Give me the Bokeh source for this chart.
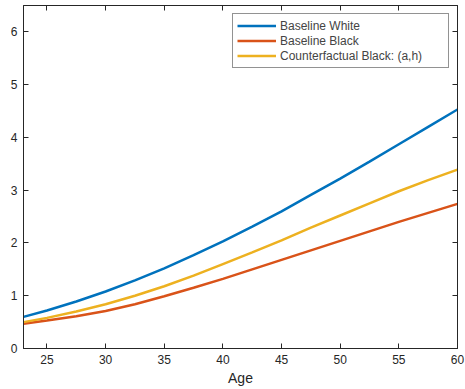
from bokeh.plotting import figure
from bokeh.models import LinearAxis, Range1d, FixedTicker, Legend, LegendItem
from bokeh.embed import file_html
from bokeh.resources import INLINE

ages = [23, 25, 27.5, 30, 32.5, 35, 37.5, 40, 42.5, 45, 47.5, 50, 52.5, 55, 57.5, 60]
baseline_white = [0.60, 0.72, 0.89, 1.08, 1.29, 1.52, 1.77, 2.03, 2.31, 2.60, 2.91, 3.22, 3.54, 3.87, 4.20, 4.53]
baseline_black = [0.47, 0.53, 0.61, 0.71, 0.84, 0.99, 1.15, 1.32, 1.50, 1.68, 1.86, 2.04, 2.22, 2.40, 2.57, 2.74]
counterfactual_black = [0.50, 0.58, 0.70, 0.84, 1.00, 1.18, 1.38, 1.60, 1.82, 2.05, 2.29, 2.52, 2.75, 2.98, 3.19, 3.39]
x_ticks = [25, 30, 35, 40, 45, 50, 55, 60]
y_ticks = [0, 1, 2, 3, 4, 5, 6]

FONT = "Liberation Sans"
INK = "#262626"

p = figure(width=465, height=389, output_backend="svg", toolbar_location=None,
           x_range=Range1d(23, 60), y_range=Range1d(0, 6.5),
           min_border_left=23, min_border_right=8, min_border_top=5, min_border_bottom=41,
           x_axis_label="Age")
p.grid.visible = False
p.outline_line_color = INK
p.outline_line_width = 1
p.background_fill_color = "white"
p.border_fill_color = "white"

for ax in p.xaxis + p.yaxis:
    ax.major_tick_in = 5
    ax.major_tick_out = 0
    ax.minor_tick_in = 0
    ax.minor_tick_out = 0
    ax.axis_line_color = INK
    ax.major_tick_line_color = INK
    ax.major_label_text_font = FONT
    ax.major_label_text_font_size = "12px"
    ax.major_label_text_color = INK
    ax.axis_label_text_font = FONT
    ax.axis_label_text_font_size = "14px"
    ax.axis_label_text_font_style = "normal"
    ax.axis_label_text_color = INK
p.xaxis.ticker = FixedTicker(ticks=x_ticks)
p.yaxis.ticker = FixedTicker(ticks=y_ticks)
p.xaxis.major_label_standoff = 6
p.yaxis.major_label_standoff = 6
p.xaxis.axis_label_standoff = 3

for loc, ticks in (("right", y_ticks), ("above", x_ticks)):
    a = LinearAxis(ticker=FixedTicker(ticks=ticks), major_tick_in=5, major_tick_out=0,
                   minor_tick_in=0, minor_tick_out=0,
                   major_label_overrides={t: "" for t in ticks},
                   major_label_standoff=0, axis_line_color=INK,
                   major_tick_line_color=INK)
    p.add_layout(a, loc)

r1 = p.line(ages, baseline_white, line_color="#0072BD", line_width=2.5)
r2 = p.line(ages, baseline_black, line_color="#D95319", line_width=2.5)
r3 = p.line(ages, counterfactual_black, line_color="#EDB120", line_width=2.5)

legend = Legend(items=[LegendItem(label="Baseline White", renderers=[r1]),
                       LegendItem(label="Baseline Black", renderers=[r2]),
                       LegendItem(label="Counterfactual Black: (a,h)", renderers=[r3])],
                location=(209, 280), margin=0, padding=4, spacing=0,
                label_text_font=FONT, label_text_font_size="12px",
                label_height=15, glyph_height=15, glyph_width=39, label_standoff=4,
                label_width=164,
                border_line_color=INK, border_line_width=1,
                background_fill_alpha=1)
p.add_layout(legend)

open("out.html", "w").write(file_html(p, INLINE))
